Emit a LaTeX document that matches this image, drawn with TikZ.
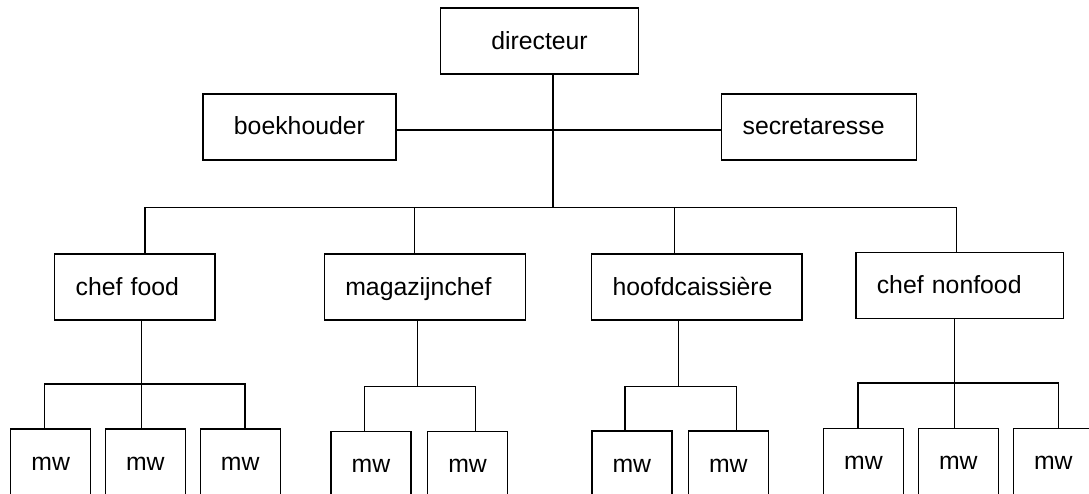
\documentclass[tikz,border=0pt]{standalone}
\usepackage{fontspec}
\setmainfont{Liberation Sans}
\begin{document}
\begin{tikzpicture}[x=1pt,y=-1pt,
  box/.style={draw, line width=1.4pt, inner sep=0pt, outer sep=0pt,
    text height=18pt, text depth=2pt, minimum height=66pt,
    font=\fontsize{24.8}{30}\selectfont},
  cbox/.style={box, minimum width=#1, align=center},
  lbox/.style={box, text width=#1, inner xsep=21pt, align=left},
  mwbox/.style={draw, line width=1.4pt, inner sep=0pt, outer sep=0pt,
    text height=14pt, text depth=2pt, minimum height=70pt, minimum width=80pt,
    anchor=north, font=\fontsize{24.8}{30}\selectfont},
  conn/.style={draw, line width=1.2pt}]
\clip (0,0) rectangle (1089,494);
\fill[white] (0,0) rectangle (1089,494);
% top level
\node[cbox=198.4pt] (dir) at (539.5,41.2) {directeur};
\node[cbox=192.9pt] (boek) at (299.45,127) {boekhouder};
\node[lbox=153pt, anchor=west] (sec) at (721.6,127) {secretaresse};
% department heads
\node[lbox=118.2pt, anchor=west] (cf) at (54.6,287) {chef food};
\node[lbox=158.9pt, anchor=west] (mag) at (324.3,287) {magazijnchef};
\node[lbox=168.3pt, anchor=west] (hoof) at (591.6,287) {hoofdcaissière};
\node[lbox=165.8pt, anchor=west] (cnf) at (855.8,285.35) {chef nonfood};
% employees
\node[mwbox] (m11) at (50.7,429) {mw};
\node[mwbox] (m12) at (145.3,429) {mw};
\node[mwbox] (m13) at (240.2,429) {mw};
\node[mwbox] (m21) at (371,431.3) {mw};
\node[mwbox] (m22) at (467.6,431.3) {mw};
\node[mwbox] (m31) at (631.8,431) {mw};
\node[mwbox] (m32) at (728.3,431) {mw};
\node[mwbox] (m41) at (863.4,428.7) {mw};
\node[mwbox] (m42) at (958.3,428.7) {mw};
\node[mwbox] (m43) at (1053.3,428.7) {mw};
% coordinates
\coordinate (side) at (553,130);
\coordinate (bus) at (553,207.5);
\coordinate (b1) at (145,207.5);
\coordinate (b2) at (414.3,207.5);
\coordinate (b3) at (674.7,207.5);
\coordinate (b4) at (956.6,207.5);
\coordinate (j1) at (141.5,384);
\coordinate (j1a) at (44.8,384);
\coordinate (j1b) at (245,384);
\coordinate (j2) at (417.1,386.3);
\coordinate (j2a) at (364.3,386.3);
\coordinate (j2b) at (475.1,386.3);
\coordinate (j3) at (678.2,386.3);
\coordinate (j3a) at (625,386.3);
\coordinate (j3b) at (736.6,386.3);
\coordinate (j4) at (954.8,383);
\coordinate (j4a) at (857.9,383);
\coordinate (j4b) at (1058.1,383);
% connectors top
\path[conn] (dir.south -| bus) -- (bus);
\path[conn] (boek.east |- side) -- (sec.west |- side);
\path[conn] (b1) -- (b4);
\path[conn] (b1) -- (cf.north -| b1);
\path[conn] (b2) -- (mag.north -| b2);
\path[conn] (b3) -- (hoof.north -| b3);
\path[conn] (b4) -- (cnf.north -| b4);
% group connectors
\path[conn] (cf.south -| j1) -- (j1) -- (m12.north -| j1);
\path[conn] (m11.north -| j1a) |- (j1b) -- (m13.north -| j1b);
\path[conn] (mag.south -| j2) -- (j2);
\path[conn] (m21.north -| j2a) |- (j2b) -- (m22.north -| j2b);
\path[conn] (hoof.south -| j3) -- (j3);
\path[conn] (m31.north -| j3a) |- (j3b) -- (m32.north -| j3b);
\path[conn] (cnf.south -| j4) -- (j4) -- (m42.north -| j4);
\path[conn] (m41.north -| j4a) |- (j4b) -- (m43.north -| j4b);
\end{tikzpicture}
\end{document}
